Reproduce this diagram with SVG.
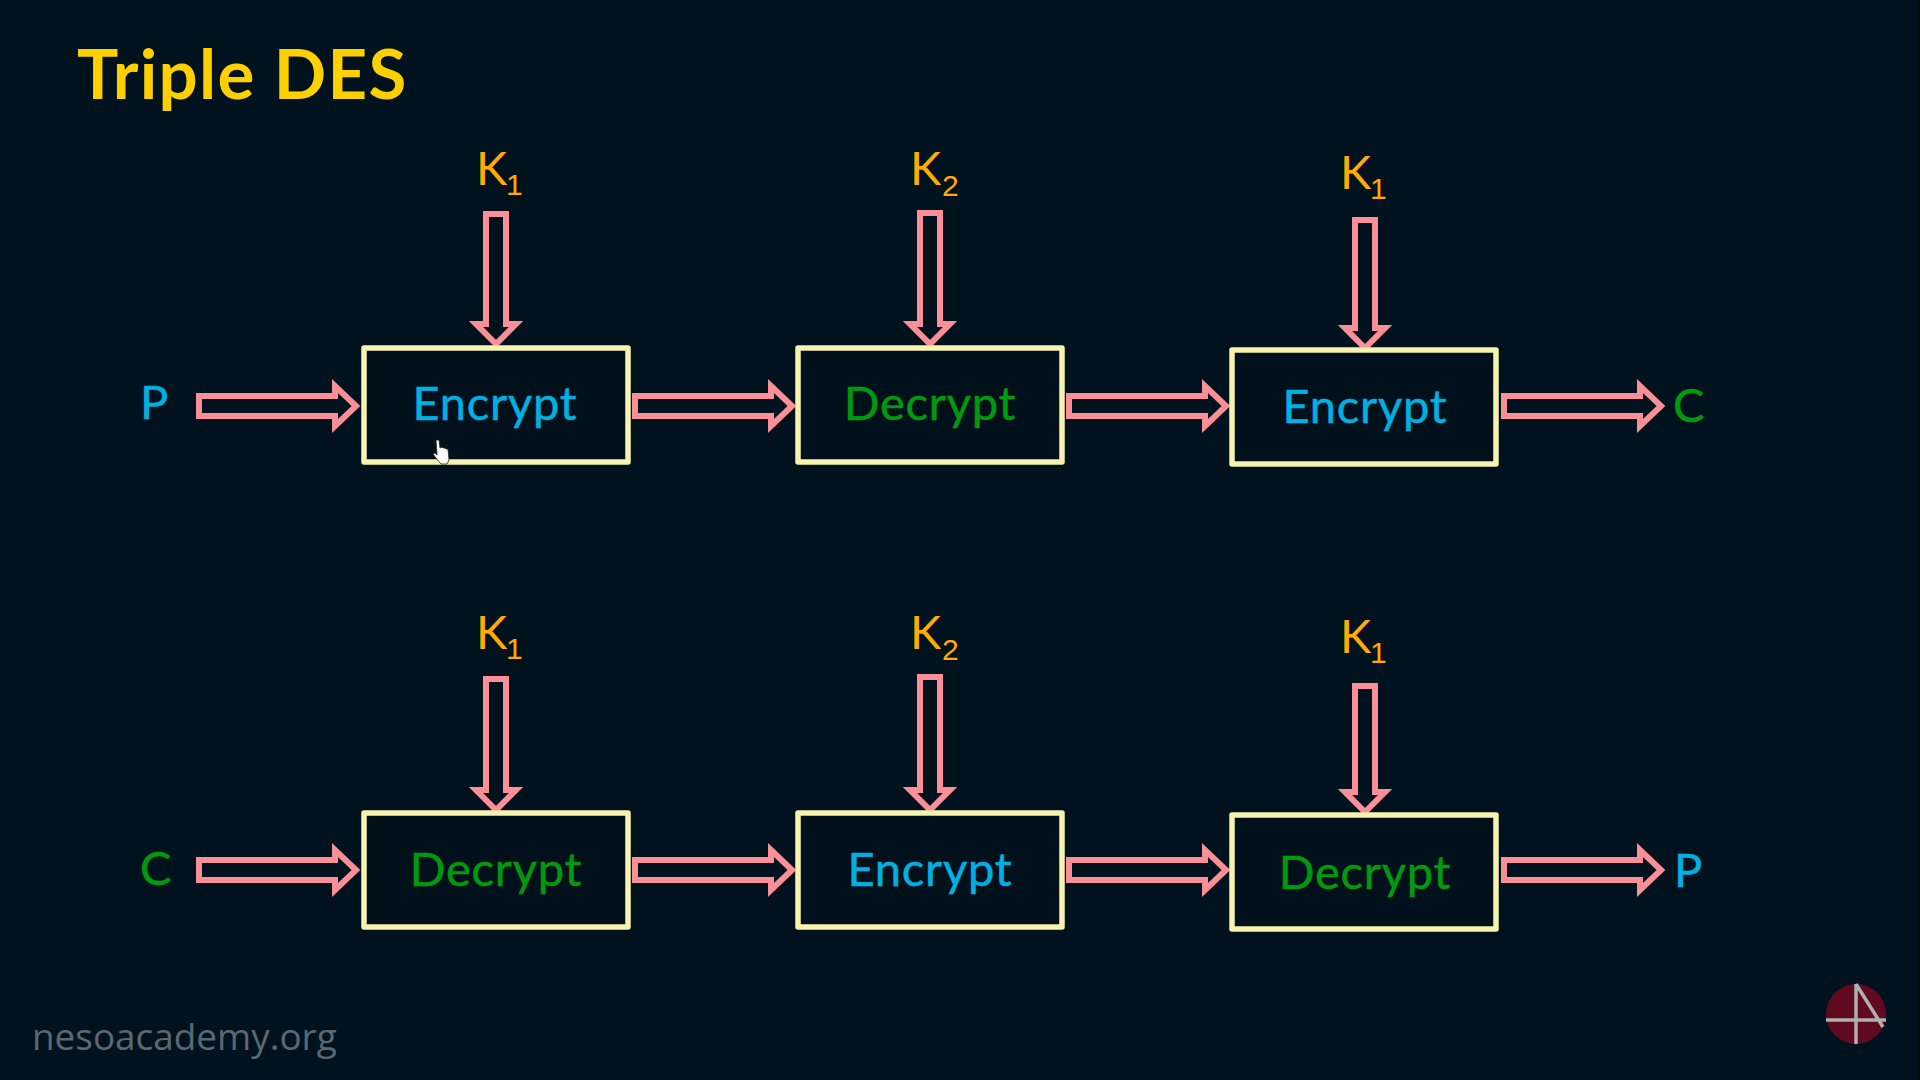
<svg xmlns="http://www.w3.org/2000/svg" width="1920" height="1080" viewBox="0 0 1920 1080">
<style>
.box{fill:#00111c;stroke:#f7f3ae;stroke-width:5.5;stroke-linejoin:round}
.arr{fill:none;stroke:#fb8f97;stroke-width:6;stroke-linejoin:miter}
text{font-family:"Lato","Noto Sans",sans-serif}
.op{font-size:47px;text-anchor:middle;letter-spacing:.8px;stroke-width:.5px}
.enc{fill:#00b0e0;stroke:#00b0e0}.dec{fill:#009a0f;stroke:#009a0f}
.key{font-size:47px;fill:#ffab00}
.sub{font-size:30px;fill:#ffab00;font-family:"Liberation Sans",sans-serif}
.io{font-size:47px;stroke-width:.5px}
</style>
<rect width="1920" height="1080" fill="#00121d"/>
<text id="title" x="77" y="99" font-size="69" font-weight="700" fill="#ffd000" letter-spacing="1.3">Triple DES</text>
<g id="connectors">
<polygon class="arr" points="199,396 335,396 335,386 356,406 335,426 335,416 199,416"/>
<polygon class="arr" points="635,396 771,396 771,386 792,406 771,426 771,416 635,416"/>
<polygon class="arr" points="1069,396 1205,396 1205,386 1226,406 1205,426 1205,416 1069,416"/>
<polygon class="arr" points="1504,396 1640,396 1640,386 1661,406 1640,426 1640,416 1504,416"/>
<polygon class="arr" points="199,860 335,860 335,850 356,870 335,890 335,880 199,880"/>
<polygon class="arr" points="635,860 771,860 771,850 792,870 771,890 771,880 635,880"/>
<polygon class="arr" points="1069,860 1205,860 1205,850 1226,870 1205,890 1205,880 1069,880"/>
<polygon class="arr" points="1504,860 1640,860 1640,850 1661,870 1640,890 1640,880 1504,880"/>
<polygon class="arr" points="486,214 506,214 506,324 516,324 496,344 476,324 486,324"/>
<polygon class="arr" points="920,213 940,213 940,324 950,324 930,344 910,324 920,324"/>
<polygon class="arr" points="1355,220 1375,220 1375,328 1385,328 1365,348 1345,328 1355,328"/>
<polygon class="arr" points="486,679 506,679 506,790 516,790 496,810 476,790 486,790"/>
<polygon class="arr" points="920,677 940,677 940,790 950,790 930,810 910,790 920,790"/>
<polygon class="arr" points="1355,686 1375,686 1375,792 1385,792 1365,812 1345,792 1355,792"/>
</g>
<g id="n-enc1"><rect class="box" x="364" y="348" width="264" height="114"/><text class="op enc" x="495" y="420">Encrypt</text></g>
<g id="n-dec1"><rect class="box" x="798" y="348" width="264" height="114"/><text class="op dec" x="930" y="420">Decrypt</text></g>
<g id="n-enc2"><rect class="box" x="1232" y="350" width="264" height="114"/><text class="op enc" x="1365" y="423">Encrypt</text></g>
<g id="n-dec2"><rect class="box" x="364" y="813" width="264" height="114"/><text class="op dec" x="496" y="886">Decrypt</text></g>
<g id="n-enc3"><rect class="box" x="798" y="813" width="264" height="114"/><text class="op enc" x="930" y="886">Encrypt</text></g>
<g id="n-dec3"><rect class="box" x="1232" y="815" width="264" height="114"/><text class="op dec" x="1365" y="889">Decrypt</text></g>
<g id="k1"><text class="key" x="476" y="185">K</text><text class="sub" x="506" y="195">1</text></g>
<g id="k2"><text class="key" x="910" y="185">K</text><text class="sub" x="942" y="196">2</text></g>
<g id="k3"><text class="key" x="1340" y="189">K</text><text class="sub" x="1370" y="199">1</text></g>
<g id="k4"><text class="key" x="476" y="649">K</text><text class="sub" x="506" y="659">1</text></g>
<g id="k5"><text class="key" x="910" y="649">K</text><text class="sub" x="942" y="660">2</text></g>
<g id="k6"><text class="key" x="1340" y="653">K</text><text class="sub" x="1370" y="663">1</text></g>
<g id="p1"><text class="io enc" x="140" y="419">P</text></g>
<g id="c1"><text class="io dec" x="1673" y="422">C</text></g>
<g id="c2"><text class="io dec" x="140" y="885">C</text></g>
<g id="p2"><text class="io enc" x="1674" y="887">P</text></g>
<text id="site" x="32" y="1050" font-size="36.9" fill="#5b6871" style="font-family:'Open Sans',sans-serif">nesoacademy.org</text>
<g id="logo"><circle cx="1856" cy="1014" r="30" fill="#5f0a1e"/><path d="M1856 984V1044M1826 1020H1886M1856 984L1883 1027" fill="none" stroke="#aeb0b2" stroke-width="3.5"/></g>
<path id="cursor" d="M436 440l3 0 1 8 2-1 1 1 2 0 1 1 2 0 1 11-2 4-6 0-5-6-3-4 2-1 2 2z" fill="#fff" stroke="#222" stroke-width="0.8"/>
<rect x="1917" width="3" height="1080" fill="#000a12"/>
</svg>
